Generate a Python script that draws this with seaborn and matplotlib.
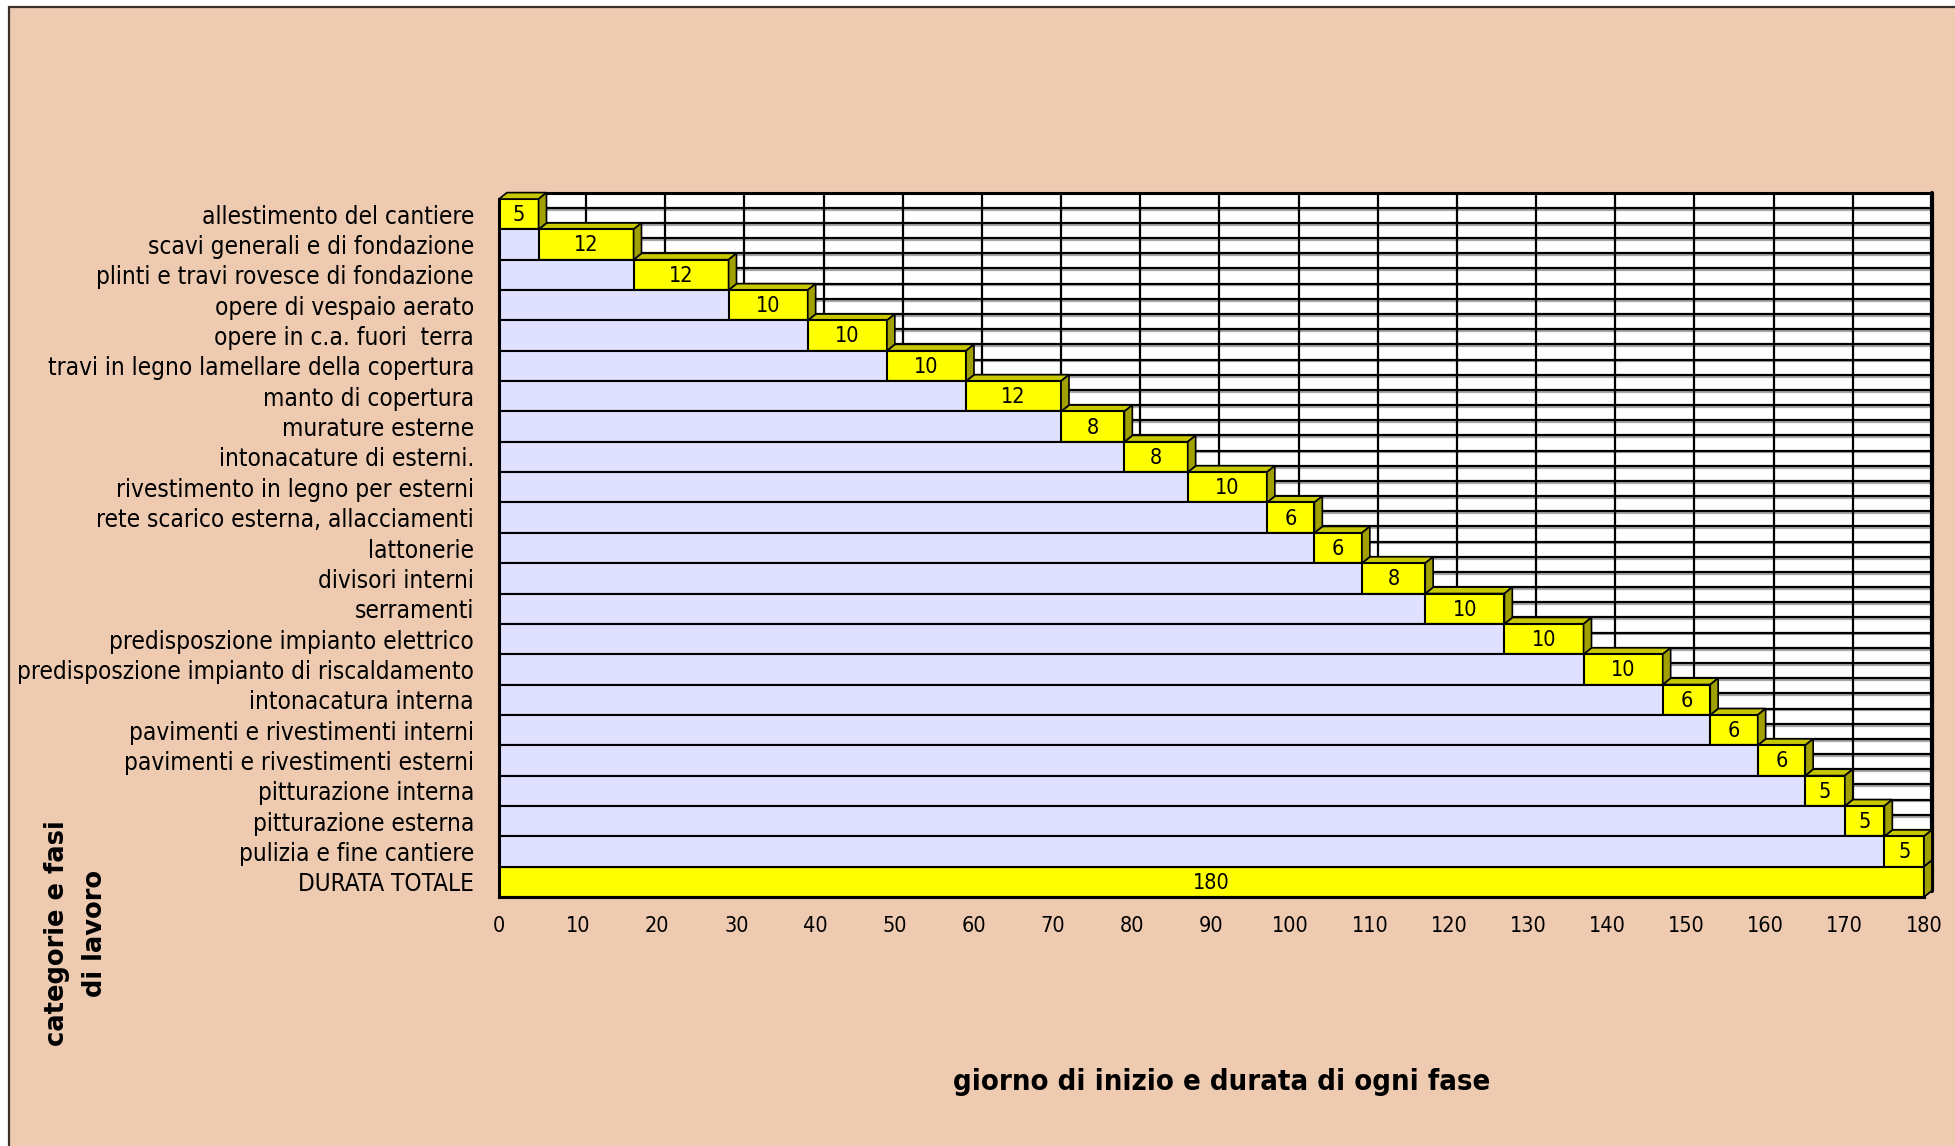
import numpy as np
import pandas as pd
import matplotlib
matplotlib.use("Agg")
import matplotlib.pyplot as plt
from matplotlib import font_manager as fm
from matplotlib.patches import Polygon, Rectangle
import seaborn as sns

# --- data -----------------------------------------------------------------
phases = [
    "allestimento del cantiere",
    "scavi generali e di fondazione",
    "plinti e travi rovesce di fondazione",
    "opere di vespaio aerato",
    "opere in c.a. fuori  terra",
    "travi in legno lamellare della copertura",
    "manto di copertura",
    "murature esterne",
    "intonacature di esterni.",
    "rivestimento in legno per esterni",
    "rete scarico esterna, allacciamenti",
    "lattonerie",
    "divisori interni",
    "serramenti",
    "predisposzione impianto elettrico",
    "predisposzione impianto di riscaldamento",
    "intonacatura interna",
    "pavimenti e rivestimenti interni",
    "pavimenti e rivestimenti esterni",
    "pitturazione interna",
    "pitturazione esterna",
    "pulizia e fine cantiere",
]
durations = [5, 12, 12, 10, 10, 10, 12, 8, 8, 10, 6, 6, 8, 10, 10, 10, 6, 6, 6, 5, 5, 5]
total_label = "DURATA TOTALE"
x_ticks = list(range(0, 181, 10))

# each phase starts when the previous one ends
starts = np.concatenate([[0], np.cumsum(durations)[:-1]])
ends = starts + np.array(durations)
total = int(ends[-1])

df = pd.DataFrame({
    "fase": phases + [total_label],
    "inizio": list(starts) + [0],
    "fine": list(ends) + [total],
    "durata": durations + [total],
})
n = len(df)

# --- style ------------------------------------------------------------------
PEACH = "#EDCAB0"
LAVENDER = "#E0E0FF"
YELLOW = "#FFFF00"
YELLOW_TOP = "#C8C800"
YELLOW_SIDE = "#A0A000"
DX, DY = 1.0, 0.21          # depth of the pseudo-3D bars (data units)

sns.set_style("white")
plt.rcParams["font.family"] = ["DejaVu Sans"]
for key in ("text.color", "axes.labelcolor", "xtick.color", "ytick.color"):
    plt.rcParams[key] = "black"

# narrow lettering: use the condensed DejaVu cut when it is installed
has_condensed = any(f.name == "DejaVu Sans" and "condensed" in str(f.stretch)
                    for f in fm.fontManager.ttflist)
STRETCH = "condensed" if has_condensed else "normal"
K = 1.0 if has_condensed else 0.9
plt.rcParams["font.stretch"] = STRETCH

W, H = 1955, 1146
fig = plt.figure(figsize=(W / 100, H / 100), dpi=100)
fig.patch.set_facecolor("white")
fig.add_artist(Rectangle((8.5 / W, -0.1), 1.2, 1.1 - 7.5 / H,
                         transform=fig.transFigure, facecolor=PEACH,
                         edgecolor="#3b302c", linewidth=1.6, zorder=-5))

ax = fig.add_axes([499 / W, 1 - 897 / H, 1425 / W, 698 / H])
ax.set_facecolor("none")

# back wall with its grid
wall_top, wall_bottom = -0.5 - DY, n - 0.5 - DY
ax.add_patch(Rectangle((DX, wall_top), total, n, facecolor="white",
                       edgecolor="none", zorder=0.1, clip_on=False))
for k in np.arange(0.5, n + 0.01, 0.5):
    y = wall_top + k
    ax.plot([DX, total + DX], [y + 0.06, y + 0.06], color="#a8a8a8", lw=1.6,
            zorder=0.2, clip_on=False, solid_capstyle="butt")
    ax.plot([DX, total + DX], [y, y], color="black", lw=1.6,
            zorder=0.25, clip_on=False, solid_capstyle="butt")
for xv in x_ticks[1:-1]:
    ax.plot([xv + DX, xv + DX], [wall_top, wall_bottom], color="black", lw=1.6,
            zorder=0.3, clip_on=False)
ax.plot([DX, total + DX], [wall_top, wall_top], color="black", lw=2.2,
        zorder=0.35, clip_on=False)
ax.plot([total + DX, total + DX], [wall_top, wall_bottom], color="black", lw=3,
        zorder=0.35, clip_on=False)

# front faces: yellow for the whole span, lavender up to the start day
sns.barplot(data=df, x="fine", y="fase", orient="h", color=YELLOW,
            saturation=1, width=1.0, edgecolor="black", linewidth=1.5,
            ax=ax, zorder=2)
sns.barplot(data=df, x="inizio", y="fase", orient="h", color=LAVENDER,
            saturation=1, width=1.0, edgecolor="black", linewidth=1.5,
            ax=ax, zorder=3)

# top faces sit behind the row above, side faces stand out on the right
for i, row in df.iterrows():
    s, e = row["inizio"], row["fine"]
    top = i - 0.5
    bot = i + 0.5
    ax.add_patch(Polygon([(s, top), (e, top), (e + DX, top - DY), (s + DX, top - DY)],
                         closed=True, facecolor=YELLOW_TOP, edgecolor="black",
                         lw=1.2, zorder=1, clip_on=False))
    ax.add_patch(Polygon([(e, top), (e + DX, top - DY), (e + DX, bot - DY), (e, bot)],
                         closed=True, facecolor=YELLOW_SIDE, edgecolor="black",
                         lw=1.2, zorder=4, clip_on=False))
    ax.text((s + e) / 2, i + 0.03, str(row["durata"]), ha="center", va="center",
            fontsize=15.5 * K, color="black", zorder=6)

# axes, ticks and labels
ax.set_xlim(0, total)
ax.set_ylim(n - 0.5, -0.5)
ax.set_xticks(x_ticks)
ax.set_xticklabels([str(v) for v in x_ticks], fontsize=15.5 * K)
ax.set_yticks(range(n))
ax.set_yticklabels(df["fase"], fontsize=17.5 * K)
ax.set_yticks(np.arange(-0.5, n), minor=True)
ax.tick_params(axis="y", which="major", length=0, pad=18)
ax.tick_params(axis="y", which="minor", length=7, width=1.5, direction="out", color="black")
ax.tick_params(axis="x", which="major", length=7, width=1.5, direction="out",
               color="black", pad=7)
ax.set_xlabel("")
ax.set_ylabel("")
for side in ("top", "right"):
    ax.spines[side].set_visible(False)
for side in ("left", "bottom"):
    ax.spines[side].set_color("black")
    ax.spines[side].set_linewidth(2.2)
    ax.spines[side].set_zorder(7)

fig.text(1222 / W, 1 - 1082 / H, "giorno di inizio e durata di ogni fase",
         ha="center", va="center", fontsize=21 * K, fontweight="bold")
fig.text(76 / W, 1 - 933 / H, "categorie e fasi\ndi lavoro", rotation=90,
         ha="center", va="center", multialignment="center", linespacing=1.55,
         fontsize=18.5, fontweight="bold", fontstretch="normal")

fig.savefig("out.png", dpi=100, facecolor=fig.get_facecolor())
